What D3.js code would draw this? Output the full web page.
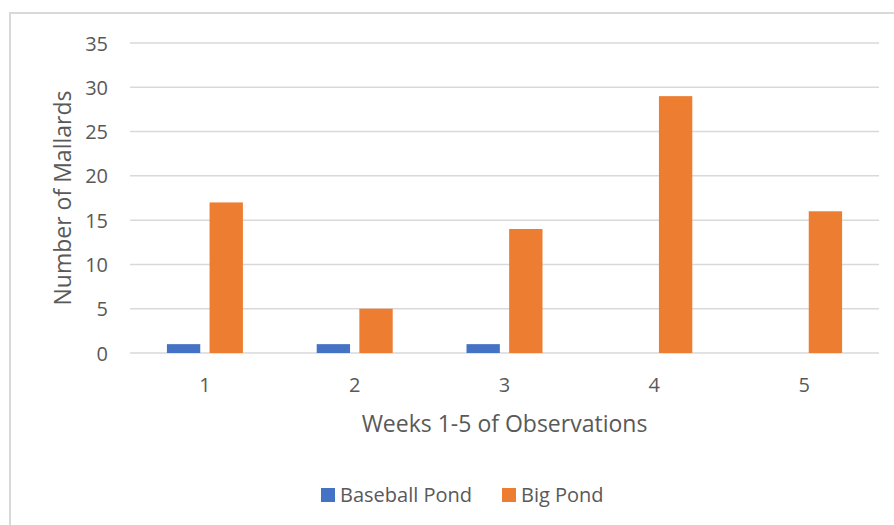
<!DOCTYPE html>
<html>
<head>
<meta charset="utf-8">
<script src="https://cdn.jsdelivr.net/npm/d3@7/dist/d3.min.js"></script>
<style>
  html, body { margin: 0; padding: 0; background: #fff; }
  svg { display: block; }
  text { font-family: "Open Sans", sans-serif; fill: #595959; }
</style>
</head>
<body>
<svg id="chart" width="894" height="525"></svg>
<script>
// Weekly mallard counts at two ponds
const weeks = ["1", "2", "3", "4", "5"];
const seriesNames = ["Baseball Pond", "Big Pond"];
const baseballPond = [1, 1, 1, 0, 0];
const bigPond = [17, 5, 14, 29, 16];
const yTicks = [0, 5, 10, 15, 20, 25, 30, 35];
const colors = ["#4472C4", "#ED7D31"];

const seriesValues = [baseballPond, bigPond];

const svg = d3.select("#chart");

// chart frame
svg.append("rect")
  .attr("x", 10).attr("y", 13)
  .attr("width", 900).attr("height", 530)
  .attr("fill", "#fff")
  .attr("stroke", "#d9d9d9")
  .attr("stroke-width", 2);

const plot = { left: 130, right: 879, top: 43, bottom: 353 };

const x = d3.scaleBand()
  .domain(weeks)
  .range([plot.left, plot.right])
  .paddingInner(0.4927)
  .paddingOuter(0.2464);

const xInner = d3.scaleBand()
  .domain(seriesNames)
  .range([0, x.bandwidth()])
  .paddingInner(0.218);

const y = d3.scaleLinear()
  .domain([0, 35])
  .range([plot.bottom, plot.top]);

// gridlines
svg.append("g")
  .selectAll("line")
  .data(yTicks)
  .join("line")
  .attr("x1", plot.left).attr("x2", plot.right)
  .attr("y1", d => y(d)).attr("y2", d => y(d))
  .attr("stroke", "#d9d9d9")
  .attr("stroke-width", 1.5);

// y axis labels
const yAxis = d3.axisLeft(y).tickValues(yTicks).tickSize(0).tickPadding(0);
const gy = svg.append("g")
  .attr("transform", `translate(${plot.left - 22},0)`)
  .call(yAxis);
gy.select(".domain").remove();
gy.selectAll("text")
  .style("font-size", "20px")
  .attr("dy", "0.35em")
  .style("font-family", "'Open Sans', sans-serif")
  .attr("fill", "#595959");

// x axis labels
const xAxis = d3.axisBottom(x).tickSize(0).tickPadding(0);
const gx = svg.append("g")
  .attr("transform", `translate(0,${plot.bottom})`)
  .call(xAxis);
gx.select(".domain").remove();
gx.selectAll("text")
  .style("font-size", "20px")
  .attr("dy", null)
  .attr("y", 39)
  .style("font-family", "'Open Sans', sans-serif")
  .attr("fill", "#595959");

// bars
const groups = svg.append("g")
  .selectAll("g")
  .data(weeks)
  .join("g")
  .attr("transform", d => `translate(${x(d)},0)`);

groups.selectAll("rect")
  .data((d, i) => seriesNames.map((s, j) => ({ s, v: seriesValues[j][i], c: colors[j] })))
  .join("rect")
  .attr("x", d => xInner(d.s))
  .attr("width", xInner.bandwidth())
  .attr("y", d => y(d.v))
  .attr("height", d => y(0) - y(d.v))
  .attr("fill", d => d.c);

// axis titles
svg.append("text")
  .attr("x", (plot.left + plot.right) / 2)
  .attr("y", 432)
  .attr("text-anchor", "middle")
  .style("font-size", "23px")
  .text("Weeks 1-5 of Observations");

svg.append("text")
  .attr("transform", `translate(71,${(plot.top + plot.bottom) / 2}) rotate(-90)`)
  .attr("text-anchor", "middle")
  .style("font-size", "23px")
  .text("Number of Mallards");

// legend
const legend = svg.append("g");
const legendItems = [
  { name: seriesNames[0], color: colors[0], x: 321 },
  { name: seriesNames[1], color: colors[1], x: 502 }
];
legendItems.forEach(item => {
  legend.append("rect")
    .attr("x", item.x).attr("y", 488)
    .attr("width", 14).attr("height", 14)
    .attr("fill", item.color);
  legend.append("text")
    .attr("x", item.x + 19)
    .attr("y", 502)
    .style("font-size", "20px")
    .text(item.name);
});
</script>
</body>
</html>
